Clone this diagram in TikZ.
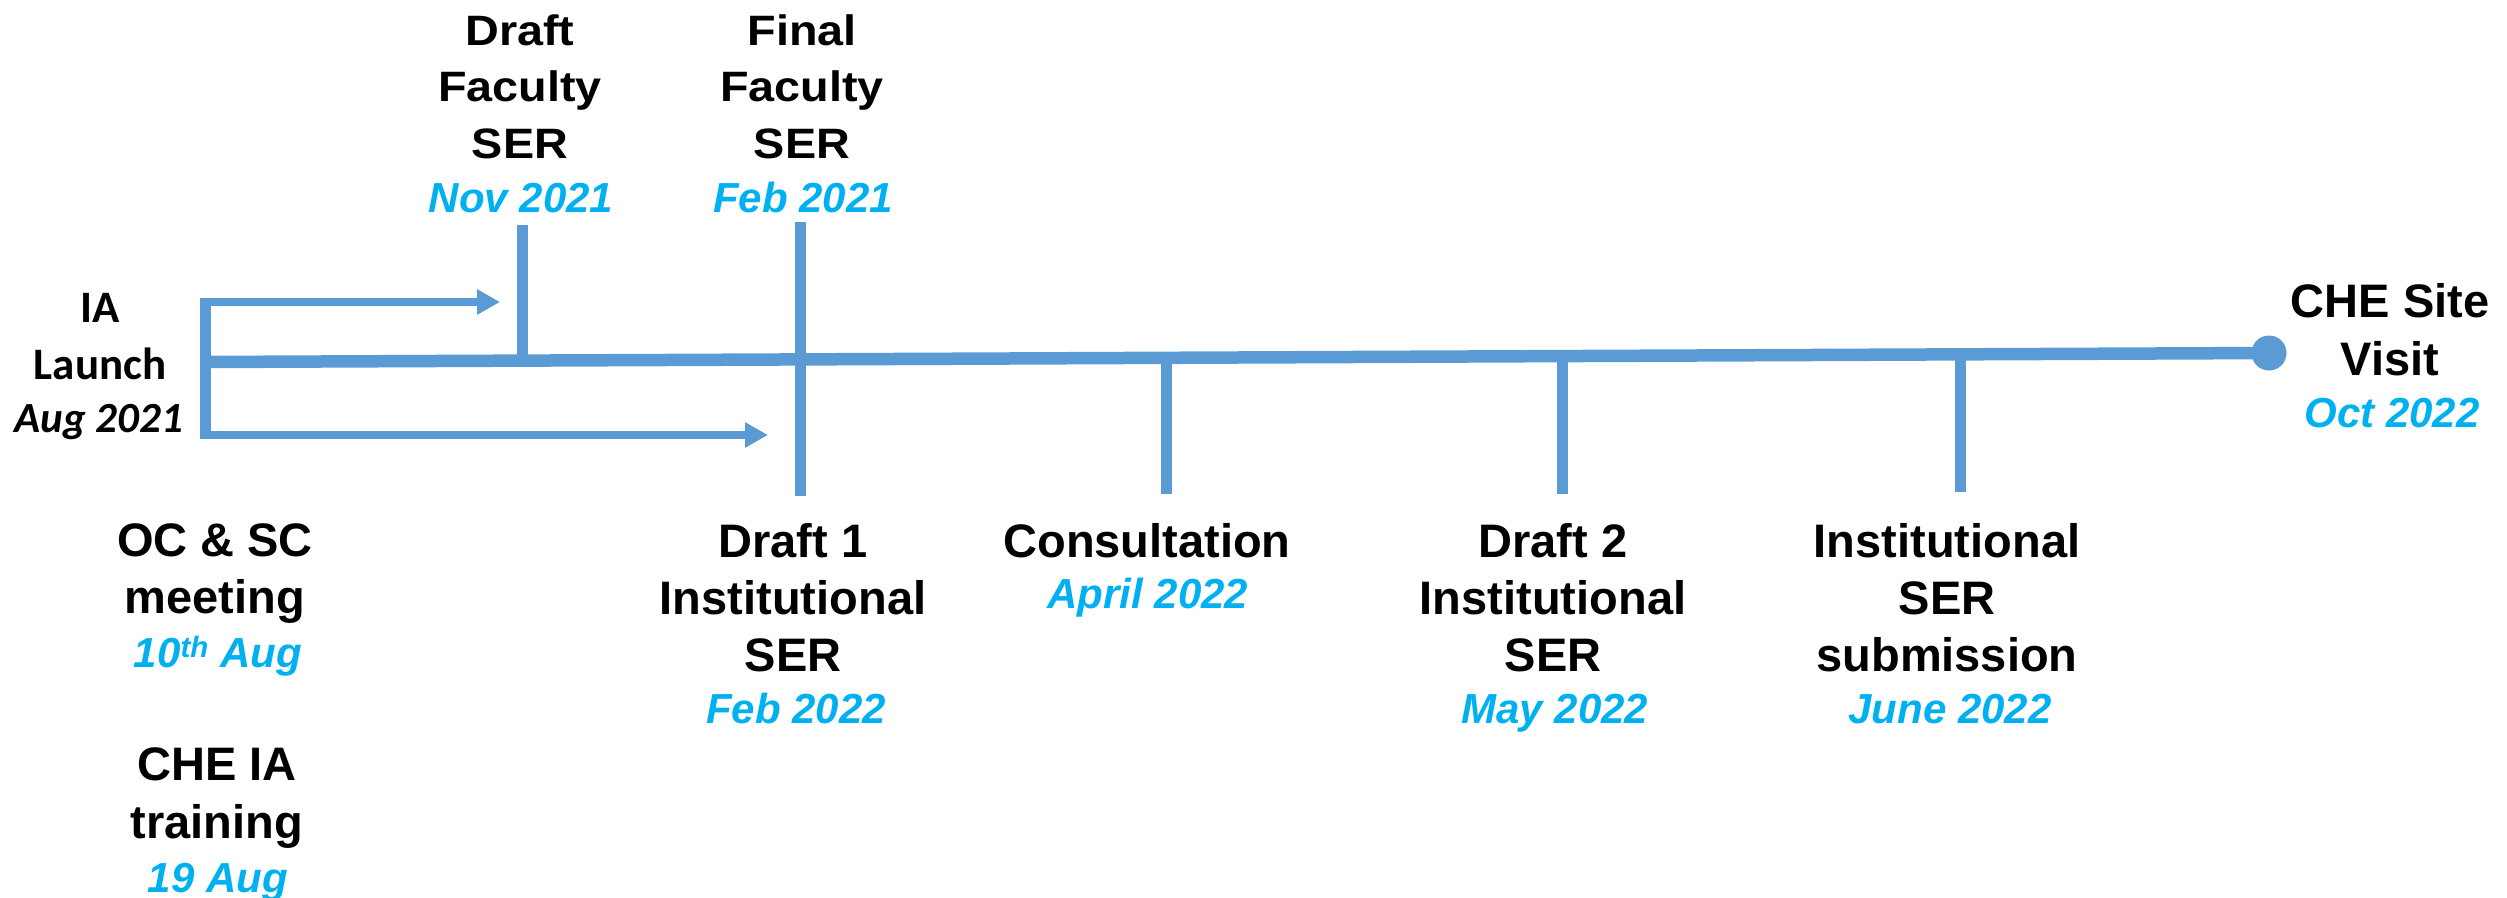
\documentclass[tikz,border=0pt]{standalone}
\usepackage{fontspec}
\setmainfont{Liberation Sans}
\newfontfamily\topfont[FakeStretch=1.1]{Liberation Sans}
\newfontfamily\calfont{Carlito}
\usetikzlibrary{arrows.meta}
\definecolor{lineblue}{HTML}{5B9BD5}
\definecolor{dateblue}{HTML}{00B0F0}
\begin{document}
\begin{tikzpicture}[x=1pt,y=-1pt,
  lbl/.style={anchor=base, inner sep=0pt, font=\fontsize{47}{56}\selectfont\bfseries},
  toplbl/.style={anchor=base, inner sep=0pt, font=\topfont\fontsize{42.5}{50}\selectfont\bfseries},
  datelbl/.style={anchor=base, inner sep=0pt, text=dateblue, font=\fontsize{42}{50}\selectfont\bfseries\itshape},
  callbl/.style={anchor=base, inner sep=0pt, font=\calfont\fontsize{45}{54}\selectfont\bfseries},
  caldate/.style={anchor=base, inner sep=0pt, font=\calfont\fontsize{43}{52}\selectfont\bfseries\itshape},
  mainline/.style={draw=lineblue, line width=12.5pt},
  tickline/.style={draw=lineblue, line width=11pt},
  bracketline/.style={draw=lineblue, line width=11pt},
  arrowline/.style={draw=lineblue, line width=8pt, -{Triangle[length=23pt,width=24pt]}}
]
\path[use as bounding box] (0,0) rectangle (2507,897);

% coordinates
\coordinate (L) at (205,362);
\coordinate (R) at (2269,353);
\coordinate (brTop) at (205,298);
\coordinate (brBot) at (205,439);
\coordinate (arTopS) at (205,302);
\coordinate (arTopE) at (500,302);
\coordinate (arBotS) at (205,435);
\coordinate (arBotE) at (768,435);
\coordinate (novTop) at (522,225);
\coordinate (novBot) at (522,361);
\coordinate (febTop) at (800,222);
\coordinate (febBot) at (800,496);
\coordinate (conTop) at (1166,358);
\coordinate (conBot) at (1166,494);
\coordinate (d2Top) at (1562,356);
\coordinate (d2Bot) at (1562,494);
\coordinate (subTop) at (1960,354);
\coordinate (subBot) at (1960,492);

% main line and end dot
\draw[mainline] (L) -- (R);
\fill[lineblue] (R) circle (17.5);

% ticks
\draw[tickline] (novTop) -- (novBot);
\draw[tickline] (febTop) -- (febBot);
\draw[tickline] (conTop) -- (conBot);
\draw[tickline] (d2Top) -- (d2Bot);
\draw[tickline] (subTop) -- (subBot);

% bracket and arrows
\draw[bracketline] (brTop) -- (brBot);
\draw[arrowline] (arTopS) -- (arTopE);
\draw[arrowline] (arBotS) -- (arBotE);

% IA Launch
\node[callbl] (ia1) at (100,322) {IA};
\node[callbl] (ia2) at (100,379) {Launch};
\node[caldate] (ia3) at (99,432) {Aug 2021};

% top labels
\node[toplbl] (df1) at (520,45) {Draft};
\node[toplbl] (df2) at (520,101) {Faculty};
\node[toplbl] (df3) at (520,158) {SER};
\node[datelbl] (df4) at (521,212) {Nov 2021};

\node[toplbl] (ff1) at (802,45) {Final};
\node[toplbl] (ff2) at (802,101) {Faculty};
\node[toplbl] (ff3) at (802,158) {SER};
\node[datelbl] (ff4) at (803,212) {Feb 2021};

% bottom labels
\node[lbl] (d11) at (793,557) {Draft 1};
\node[lbl] (d12) at (793,614) {Institutional};
\node[lbl] (d13) at (793,671) {SER};
\node[datelbl] (d14) at (796,723) {Feb 2022};

\node[lbl] (c1) at (1147,557) {Consultation};
\node[datelbl] (c2) at (1148,608) {April 2022};

\node[lbl] (d21) at (1553,557) {Draft 2};
\node[lbl] (d22) at (1553,614) {Institutional};
\node[lbl] (d23) at (1553,671) {SER};
\node[datelbl] (d24) at (1555,723) {May 2022};

\node[lbl] (s1) at (1947,557) {Institutional};
\node[lbl] (s2) at (1947,614) {SER};
\node[lbl] (s3) at (1947,671) {submission};
\node[datelbl] (s4) at (1950,723) {June 2022};

\node[lbl] (v1) at (2390,317) {CHE Site};
\node[lbl] (v2) at (2390,375) {Visit};
\node[datelbl] (v3) at (2392,427) {Oct 2022};

\node[lbl] (o1) at (215,556) {OC \& SC};
\node[lbl] (o2) at (215,613) {meeting};
\node[datelbl] (o3) at (218,667) {10\textsuperscript{th} Aug};

\node[lbl] (t1) at (217,780) {CHE IA};
\node[lbl] (t2) at (217,838) {training};
\node[datelbl] (t3) at (218,892) {19 Aug};
\end{tikzpicture}
\end{document}
